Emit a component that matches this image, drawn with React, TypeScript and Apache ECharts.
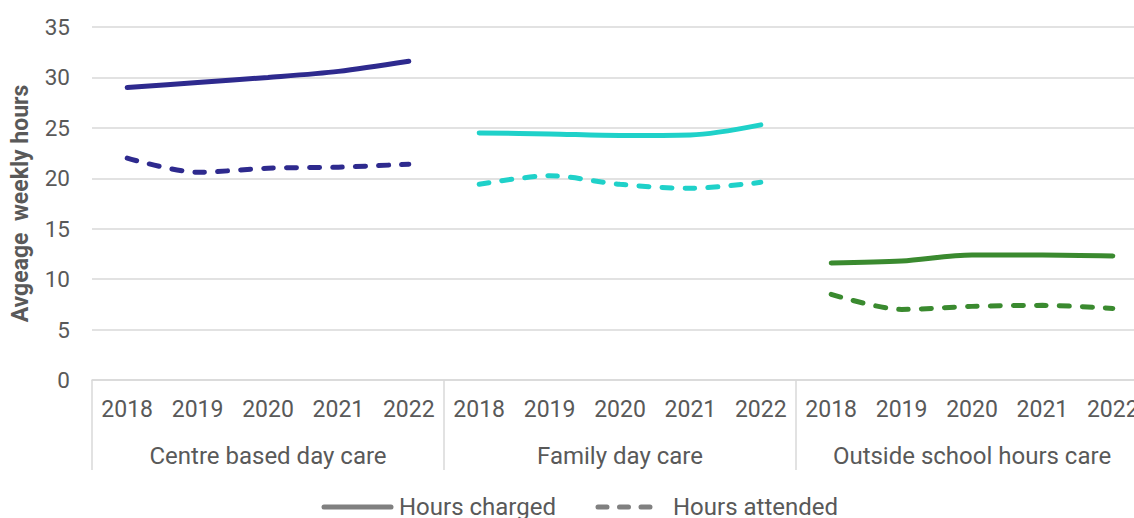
import React, { useEffect, useRef } from "react";
import * as echarts from "echarts";

const years = ["2018", "2019", "2020", "2021", "2022"];
const groups = ["Centre based day care", "Family day care", "Outside school hours care"];
const centreCharged = [29.0, 29.5, 30.0, 30.6, 31.6];
const centreAttended = [22.0, 20.6, 21.0, 21.1, 21.4];
const familyCharged = [24.5, 24.4, 24.25, 24.3, 25.3];
const familyAttended = [19.4, 20.25, 19.4, 19.0, 19.6];
const oshcCharged = [11.6, 11.8, 12.4, 12.4, 12.3];
const oshcAttended = [8.5, 7.0, 7.3, 7.4, 7.1];
const yTicks = { min: 0, max: 35, interval: 5 };

const colors = ["#2E2A8E", "#1FD1C9", "#3A8A2F"];
const FONT = "Roboto";
const TEXT = "#595959";
const GRID = "#d9d9d9";

function place(groupIndex: number, values: number[]) {
  const out: (number | null)[] = [];
  groups.forEach((_, g) => {
    years.forEach((__, i) => out.push(g === groupIndex ? values[i] : null));
  });
  return out;
}

export default function App() {
  const ref = useRef<HTMLDivElement>(null);
  useEffect(() => {
    if (!ref.current) return;
    const chart = echarts.init(ref.current, null, { renderer: "svg" });
    const charged = [centreCharged, familyCharged, oshcCharged];
    const attended = [centreAttended, familyAttended, oshcAttended];
    const series: any[] = [];
    charged.forEach((vals, g) => {
      series.push({
        name: "Hours charged",
        type: "line",
        xAxisIndex: 0,
        data: place(g, vals),
        smooth: 0.3,
        symbol: "none",
        lineStyle: { color: colors[g], width: 5, cap: "round" },
      });
    });
    attended.forEach((vals, g) => {
      series.push({
        name: "Hours attended",
        type: "line",
        xAxisIndex: 0,
        data: place(g, vals),
        smooth: 0.3,
        symbol: "none",
        lineStyle: { color: colors[g], width: 5, type: [10, 13], cap: "round" },
      });
    });
    chart.setOption({
      animation: false,
      textStyle: { fontFamily: FONT },
      grid: { left: 92, top: 27, width: 1056, height: 353, containLabel: false, outerBoundsMode: "none" },
      xAxis: [
        {
          type: "category",
          position: "bottom",
          data: groups.flatMap(() => years),
          axisLine: { show: true, lineStyle: { color: GRID, width: 1.5 } },
          axisTick: { show: false },
          axisLabel: { interval: 0, fontSize: 23, color: TEXT, margin: 18, fontFamily: FONT },
        },
        {
          type: "category",
          position: "bottom",
          data: groups,
          axisLine: { show: false },
          axisTick: { show: true, interval: 0, length: 90, lineStyle: { color: GRID, width: 1.5 } },
          axisLabel: { interval: 0, fontSize: 24, color: TEXT, margin: 64, fontFamily: FONT },
        },
      ],
      yAxis: {
        type: "value",
        min: yTicks.min,
        max: yTicks.max,
        interval: yTicks.interval,
        name: "Avgeage  weekly hours",
        nameLocation: "middle",
        nameRotate: 90,
        nameGap: 60,
        nameTextStyle: { fontSize: 23, fontWeight: "bold", color: TEXT, fontFamily: FONT },
        axisLine: { show: false },
        axisTick: { show: false },
        axisLabel: { fontSize: 22.5, color: TEXT, margin: 22, fontFamily: FONT },
        splitLine: { lineStyle: { color: GRID, width: 1.5 } },
      },
      series,
      graphic: [
        {
          type: "line",
          shape: { x1: 324, y1: 507, x2: 391, y2: 507 },
          style: { stroke: "#808080", lineWidth: 5, lineCap: "round" },
        },
        {
          type: "text",
          x: 399,
          y: 507,
          style: { text: "Hours charged", fontSize: 24, fill: TEXT, fontFamily: FONT, verticalAlign: "middle" },
        },
        {
          type: "line",
          shape: { x1: 598, y1: 507, x2: 659, y2: 507 },
          style: { stroke: "#808080", lineWidth: 5, lineCap: "round", lineDash: [9, 12.5] },
        },
        {
          type: "text",
          x: 673,
          y: 507,
          style: { text: "Hours attended", fontSize: 24, fill: TEXT, fontFamily: FONT, verticalAlign: "middle" },
        },
      ],
    });
    return () => chart.dispose();
  }, []);
  return (
    <div
      ref={ref}
      style={{ position: "fixed", left: 0, top: 0, width: 1134, height: 518, background: "#fff" }}
    />
  );
}
